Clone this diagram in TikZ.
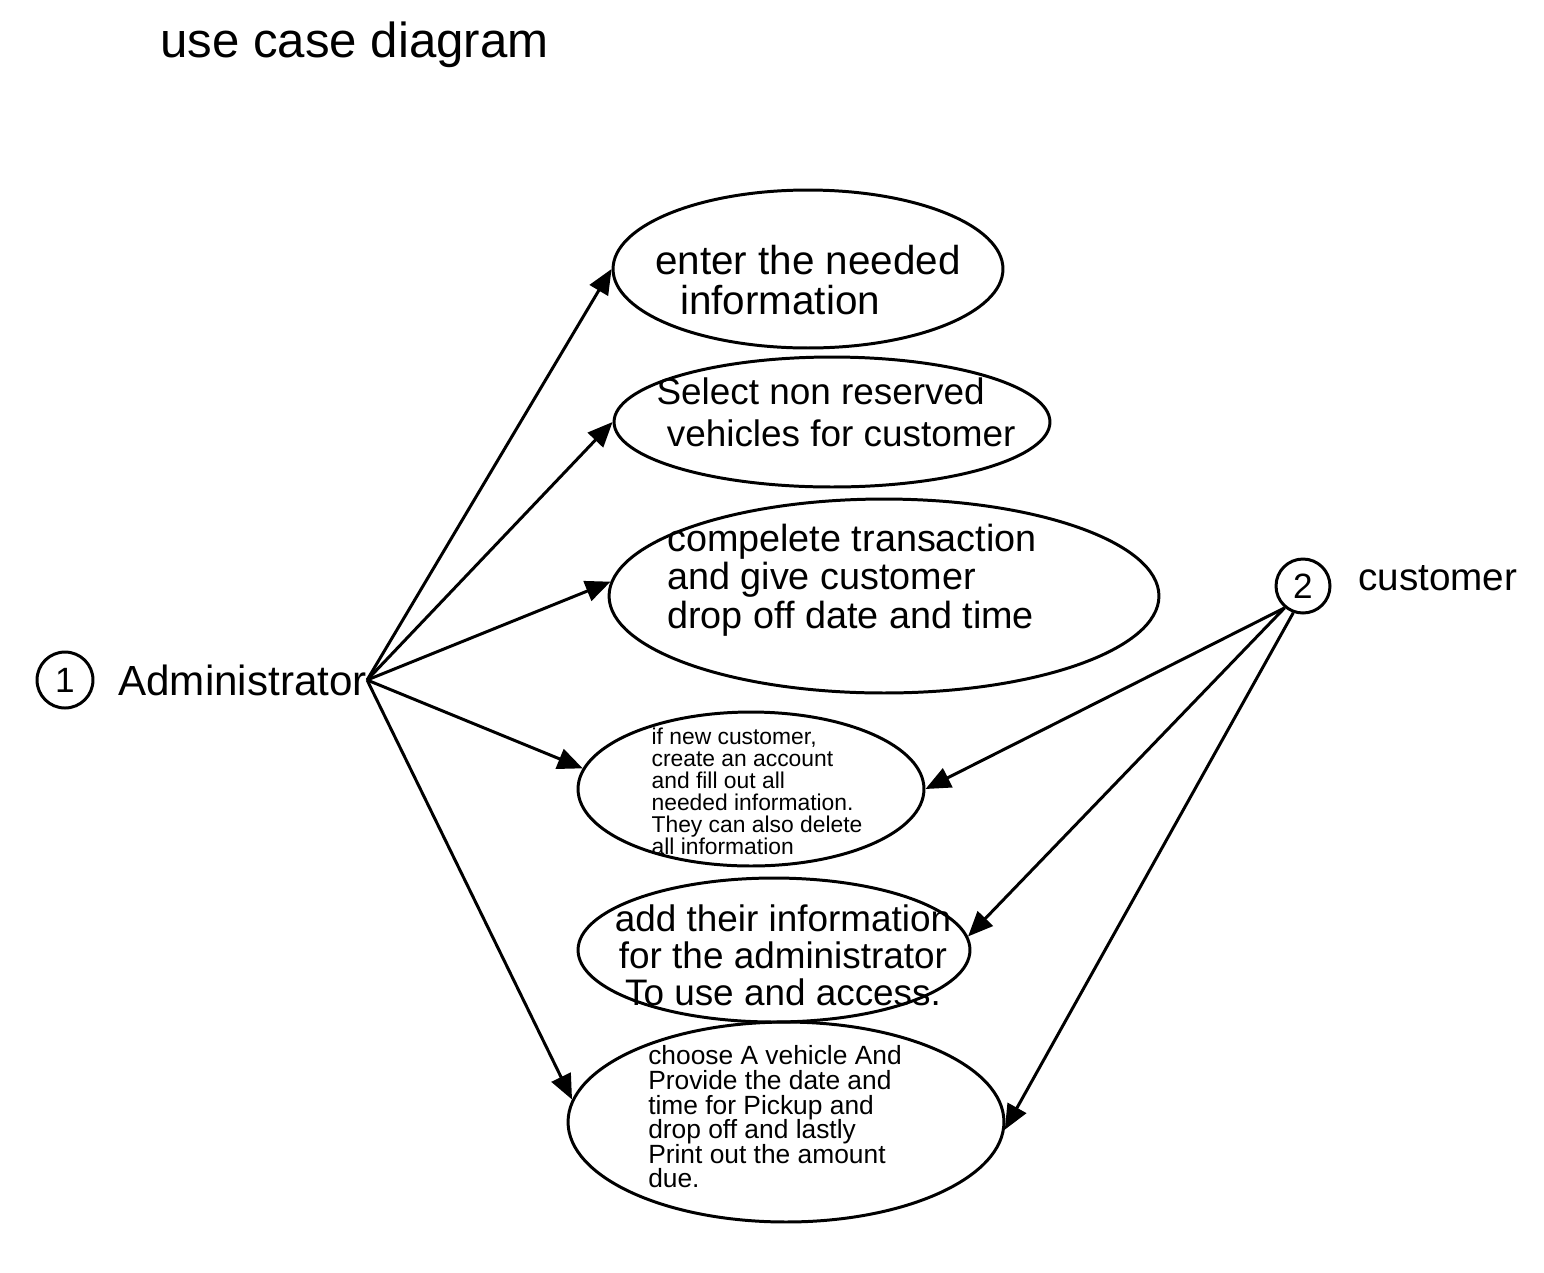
\documentclass[tikz,border=0pt]{standalone}
\usepackage{fontspec}
\setmainfont{Liberation Sans}
\usetikzlibrary{shapes.geometric, arrows.meta, positioning}

\begin{document}
\begin{tikzpicture}[x=0.02cm, y=-0.02cm,
    usecase/.style={draw, line width=1.7pt, ellipse, inner sep=0pt},
    actor/.style={draw, line width=1.7pt, circle, inner sep=0pt, font=\fontsize{20}{20}\selectfont},
    plainText/.style={inner sep=0pt, anchor=west},
    ucText/.style={inner sep=0pt},
    assoc/.style={line width=1.7pt, -{Triangle[length=0.5cm, width=0.42cm]}}
]
\useasboundingbox (0,0) rectangle (1544,1272);

% Title
\node[plainText, font=\fontsize{28}{28}\selectfont] (title) at (160,45) {use case diagram};

% Actors
\node[actor, minimum size=1.12cm] (c1) at (65,680) {1};
\node[plainText, font=\fontsize{24}{24}\selectfont] (admin) at (118,680) {Administrator};
\node[actor, minimum size=1.08cm] (c2) at (1303,586) {2};
\node[plainText, font=\fontsize{22}{22}\selectfont] (cust) at (1358,578) {customer};

% Use cases
\node[usecase, minimum width=7.8cm, minimum height=3.16cm] (uc1) at (808,269) {};
\node[ucText, align=left, font=\fontsize{23}{23}\selectfont] (uc1t) at (808,280) {enter the needed\\ \hspace{0.5cm}information};

\node[usecase, minimum width=8.72cm, minimum height=2.6cm] (uc2) at (832,422) {};
\node[ucText, align=left, font=\fontsize{21}{24}\selectfont] (uc2t) at (836,412) {Select non reserved\\ \ vehicles for customer};

\node[usecase, minimum width=11cm, minimum height=3.88cm] (uc3) at (884,596) {};
\node[ucText, align=left, font=\fontsize{21.5}{22}\selectfont] (uc3t) at (852,580) {compelete transaction\\ and give customer\\ drop off date and time};

\node[usecase, minimum width=6.92cm, minimum height=3.08cm] (uc4) at (751,789) {};
\node[ucText, align=left, font=\fontsize{13}{12.5}\selectfont] (uc4t) at (757,791) {if new customer,\\ create an account\\ and fill out all\\ needed information.\\ They can also delete\\ all information};

\node[usecase, minimum width=7.84cm, minimum height=2.88cm] (uc5) at (774,950) {};
\node[ucText, align=center, font=\fontsize{21}{21}\selectfont] (uc5t) at (783,955) {add their information\\ for the administrator\\ To use and access.};

\node[usecase, minimum width=8.72cm, minimum height=4cm] (uc6) at (786,1122) {};
\node[ucText, align=left, font=\fontsize{15}{14}\selectfont] (uc6t) at (775,1117) {choose A vehicle And\\ Provide the date and\\ time for Pickup and\\ drop off and lastly\\ Print out the amount\\ due.};

% Administrator associations
\coordinate (adminEnd) at (admin.east);
\draw[assoc] (adminEnd) -- (uc1.west);
\draw[assoc] (adminEnd) -- (uc2.west);
\draw[assoc] (adminEnd) -- (uc3.177);
\draw[assoc] (adminEnd) -- (uc4.173.5);
\draw[assoc] (adminEnd) -- (uc6.174);

% Customer associations
\draw[assoc] (c2.230) -- (uc4.east);
\draw[assoc] (c2.230) -- (uc5.4.5);
\draw[assoc] (c2.250) -- (uc6.358);

\end{tikzpicture}
\end{document}
